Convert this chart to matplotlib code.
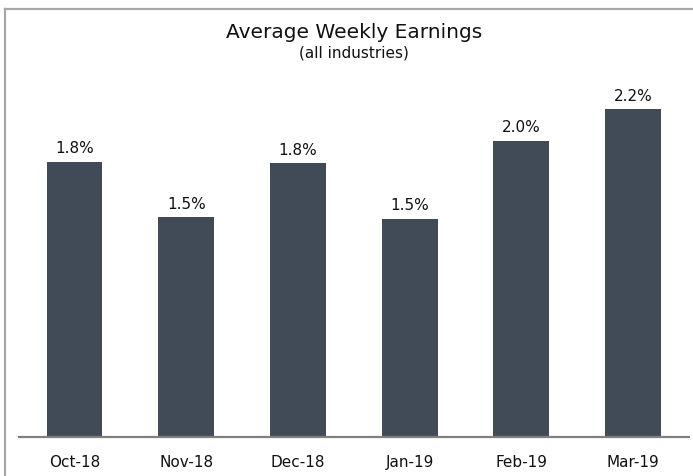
import numpy as np
import matplotlib
matplotlib.use('Agg')
import matplotlib.pyplot as plt
from matplotlib.lines import Line2D

# Data
months = ['Oct-18', 'Nov-18', 'Dec-18', 'Jan-19', 'Feb-19', 'Mar-19']
earnings = [1.84, 1.47, 1.83, 1.46, 1.98, 2.19]

bar_color = '#404b57'

fig = plt.figure(figsize=(6.93, 4.76), dpi=100)
ax = fig.add_axes([18.65 / 693, 39 / 476, 670.3 / 693, 389 / 476])

x = np.arange(len(months))
bars = ax.bar(x, earnings, width=0.5, color=bar_color)

# value labels above bars
for bar in bars:
    yval = bar.get_height()
    ax.annotate(f'{yval:.1f}%', (bar.get_x() + bar.get_width() / 2, yval),
                xytext=(0, 4), textcoords='offset points',
                ha='center', va='bottom', fontsize=11, color='#111111')

ax.set_xlim(-0.5, len(months) - 0.5)
ax.set_ylim(0, 2.6)
ax.set_xticks(x)
ax.set_xticklabels(months, fontsize=11, color='#111111')
ax.tick_params(axis='x', length=0, pad=13)
ax.set_yticks([])
for side in ['top', 'left', 'right']:
    ax.spines[side].set_visible(False)
ax.spines['bottom'].set_color('#808080')
ax.spines['bottom'].set_linewidth(1.6)

# titles
fig.text(354 / 693, 1 - 32 / 476, 'Average Weekly Earnings', ha='center', va='center',
         fontsize=14.5, color='#111111')
fig.text(354 / 693, 1 - 53 / 476, '(all industries)', ha='center', va='center',
         fontsize=11, color='#111111')

# outer frame (left and top only visible)
fx, fy = 5 / 693, 1 - 9 / 476
fig.add_artist(Line2D([fx, fx], [0, fy], transform=fig.transFigure, color='#a8a8a8', lw=1.6))
fig.add_artist(Line2D([fx, 1], [fy, fy], transform=fig.transFigure, color='#a8a8a8', lw=1.6))

fig.savefig('out.png', dpi=100)
